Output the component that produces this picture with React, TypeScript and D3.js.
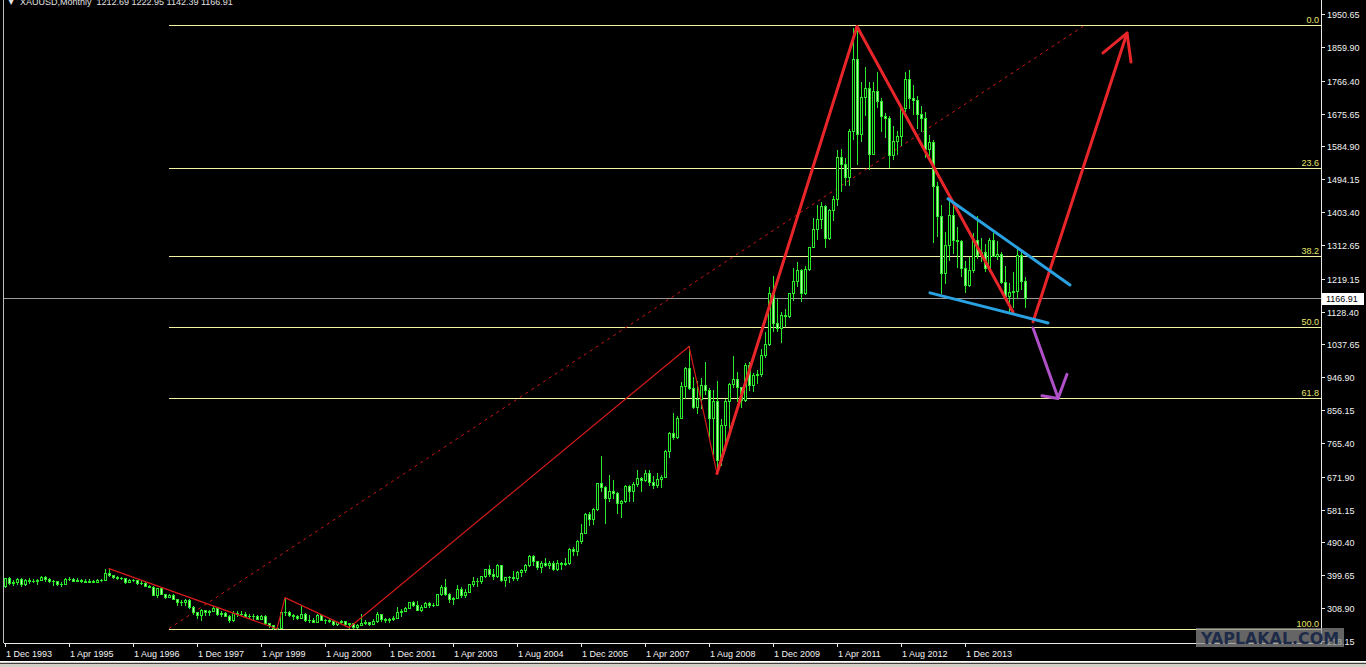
import React from 'react';
import * as d3 from 'd3';

const W = 1366;
const H = 667;

// XAUUSD monthly bars, Dec 1993 .. Mar 2015
const START = new Date(1993, 11, 1);
const END = new Date(2015, 3, 1);

const opens = [
  370,
  391, 378, 381, 390, 376, 387, 385, 384, 386, 394, 389, 383,
  383, 375, 376, 390, 390, 385, 387, 383, 382, 384, 382, 387,
  387, 405, 400, 396, 391, 391, 382, 386, 386, 379, 379, 371,
  368, 345, 364, 348, 340, 344, 334, 326, 325, 332, 311, 297,
  290, 303, 297, 301, 309, 293, 296, 288, 275, 296, 292, 294,
  288, 286, 287, 279, 286, 268, 262, 255, 254, 299, 299, 291,
  288, 283, 293, 276, 275, 272, 289, 277, 277, 273, 264, 270,
  273, 265, 267, 258, 263, 267, 270, 266, 273, 292, 280, 275,
  279, 282, 297, 302, 309, 326, 318, 304, 312, 324, 317, 319,
  347, 368, 347, 334, 338, 363, 346, 354, 375, 385, 383, 398,
  416, 402, 397, 427, 387, 394, 395, 392, 409, 415, 428, 453,
  438, 422, 435, 428, 435, 416, 435, 430, 433, 473, 466, 494,
  517, 569, 556, 583, 654, 643, 614, 633, 626, 599, 605, 646,
  632, 651, 669, 662, 681, 657, 650, 666, 672, 743, 794, 783,
  834, 923, 972, 918, 864, 887, 926, 912, 833, 880, 718, 814,
  882, 928, 942, 919, 883, 980, 926, 954, 955, 1008, 1040, 1180,
  1097, 1082, 1118, 1115, 1180, 1213, 1243, 1181, 1247, 1307, 1357, 1384,
  1421, 1333, 1409, 1439, 1556, 1536, 1500, 1628, 1826, 1620, 1722, 1746,
  1564, 1737, 1711, 1668, 1664, 1560, 1599, 1614, 1690, 1772, 1719, 1712,
  1675, 1663, 1579, 1597, 1476, 1392, 1234, 1313, 1396, 1326, 1323, 1250,
  1202, 1244, 1326, 1284, 1292, 1250, 1327, 1282, 1287, 1210, 1171, 1183,
  1184, 1284, 1212.69,
];

const highs = [
  392,
  396, 386, 392, 392, 389, 392, 389, 389, 399, 397, 391, 386,
  384, 381, 393, 396, 391, 391, 390, 389, 389, 387, 390, 389,
  418, 417, 401, 397, 395, 392, 389, 390, 387, 385, 384, 373,
  369, 365, 366, 349, 349, 347, 335, 331, 335, 335, 314, 299,
  307, 305, 303, 316, 313, 300, 298, 290, 301, 302, 301, 297,
  292, 292, 291, 291, 290, 269, 263, 261, 300, 338, 301, 292,
  290, 318, 296, 289, 283, 292, 293, 280, 279, 275, 272, 276,
  273, 269, 269, 265, 294, 275, 272, 278, 298, 294, 282, 282,
  286, 313, 306, 312, 327, 330, 328, 317, 327, 325, 324, 349,
  372, 389, 352, 340, 373, 368, 362, 376, 394, 392, 399, 417,
  428, 418, 431, 427, 396, 399, 411, 412, 417, 430, 456, 457,
  440, 438, 448, 439, 438, 443, 437, 448, 476, 478, 496, 541,
  571, 574, 587, 655, 730, 646, 676, 664, 631, 608, 650, 650,
  657, 690, 670, 692, 691, 674, 682, 677, 745, 796, 848, 841,
  933, 975, 1032, 949, 936, 946, 988, 918, 913, 936, 832, 888,
  930, 1006, 961, 919, 985, 990, 960, 966, 1024, 1072, 1195, 1226,
  1162, 1128, 1136, 1181, 1249, 1265, 1246, 1253, 1308, 1388, 1424, 1431,
  1424, 1412, 1447, 1576, 1577, 1552, 1632, 1913, 1921, 1764, 1803, 1763,
  1764, 1791, 1718, 1676, 1668, 1640, 1628, 1692, 1790, 1796, 1754, 1723,
  1697, 1679, 1617, 1603, 1487, 1424, 1347, 1434, 1424, 1361, 1325, 1268,
  1280, 1345, 1392, 1331, 1315, 1332, 1345, 1323, 1293, 1255, 1208, 1238,
  1307, 1293, 1222.95,
];

const lows = [
  367,
  376, 373, 376, 369, 374, 379, 380, 375, 386, 383, 381, 374,
  372, 371, 375, 388, 383, 384, 382, 380, 381, 381, 381, 383,
  387, 397, 393, 389, 390, 379, 380, 385, 377, 377, 369, 366,
  344, 340, 347, 337, 339, 334, 318, 319, 319, 309, 294, 282,
  277, 291, 289, 300, 291, 287, 286, 272, 274, 288, 290, 284,
  283, 280, 278, 278, 265, 256, 252, 252, 253, 289, 287, 280,
  280, 282, 273, 272, 270, 272, 275, 269, 270, 263, 263, 267,
  262, 255, 255, 255, 262, 264, 263, 265, 271, 273, 270, 271,
  276, 281, 288, 300, 309, 315, 303, 302, 311, 313, 315, 317,
  345, 345, 326, 320, 336, 340, 340, 354, 369, 369, 378, 396,
  399, 390, 394, 385, 371, 382, 387, 388, 398, 410, 425, 427,
  416, 410, 425, 421, 414, 413, 418, 427, 432, 456, 456, 490,
  517, 538, 541, 581, 632, 543, 605, 612, 573, 560, 603, 604,
  604, 647, 632, 660, 648, 641, 645, 643, 670, 726, 776, 780,
  834, 890, 914, 862, 847, 863, 902, 775, 736, 681, 705, 745,
  800, 919, 881, 866, 880, 913, 908, 931, 951, 1003, 1035, 1076,
  1075, 1045, 1088, 1114, 1160, 1200, 1157, 1176, 1243, 1306, 1329, 1359,
  1308, 1330, 1381, 1423, 1462, 1478, 1478, 1604, 1535, 1600, 1671, 1523,
  1564, 1693, 1627, 1612, 1527, 1549, 1564, 1589, 1684, 1692, 1673, 1635,
  1626, 1555, 1562, 1321, 1338, 1180, 1207, 1271, 1291, 1251, 1226, 1182,
  1200, 1238, 1277, 1268, 1240, 1240, 1281, 1273, 1206, 1161, 1131, 1142,
  1167, 1190, 1142.39,
];

const closes = [
  391,
  378, 381, 390, 376, 387, 385, 384, 386, 394, 389, 383, 383,
  375, 376, 390, 390, 385, 387, 383, 382, 384, 382, 387, 387,
  405, 400, 396, 391, 391, 382, 386, 386, 379, 379, 371, 368,
  345, 364, 348, 340, 344, 334, 326, 325, 332, 311, 297, 290,
  303, 297, 301, 309, 293, 296, 288, 275, 296, 292, 294, 288,
  286, 287, 279, 286, 268, 262, 255, 254, 299, 299, 291, 288,
  283, 293, 276, 275, 272, 289, 277, 277, 273, 264, 270, 273,
  265, 267, 258, 263, 267, 270, 266, 273, 292, 280, 275, 279,
  282, 297, 302, 309, 326, 318, 304, 312, 324, 317, 319, 347,
  368, 347, 334, 338, 363, 346, 354, 375, 385, 383, 398, 416,
  402, 397, 427, 387, 394, 395, 392, 409, 415, 428, 453, 438,
  422, 435, 428, 435, 416, 435, 430, 433, 473, 466, 494, 517,
  569, 556, 583, 654, 643, 614, 633, 626, 599, 605, 646, 632,
  651, 669, 662, 681, 657, 650, 666, 672, 743, 794, 783, 834,
  923, 972, 918, 864, 887, 926, 912, 833, 880, 718, 814, 882,
  928, 942, 919, 883, 980, 926, 954, 955, 1008, 1040, 1180, 1097,
  1082, 1118, 1115, 1180, 1213, 1243, 1181, 1247, 1307, 1357, 1384, 1421,
  1333, 1409, 1439, 1556, 1536, 1500, 1628, 1826, 1620, 1722, 1746, 1564,
  1737, 1711, 1668, 1664, 1560, 1599, 1614, 1690, 1772, 1719, 1712, 1675,
  1663, 1579, 1597, 1476, 1392, 1234, 1313, 1396, 1326, 1323, 1250, 1202,
  1244, 1326, 1284, 1292, 1250, 1327, 1282, 1287, 1210, 1171, 1183, 1184,
  1284, 1213, 1166.91,
];

const priceTicks = [
  1950.65, 1859.9, 1766.4, 1675.65, 1584.9, 1494.15, 1403.4, 1312.65, 1219.15,
  1128.4, 1037.65, 946.9, 856.15, 765.4, 671.9, 581.15, 490.4, 399.65, 308.9, 218.15,
];

const timeTicks = [
  '1 Dec 1993', '1 Apr 1995', '1 Aug 1996', '1 Dec 1997', '1 Apr 1999', '1 Aug 2000',
  '1 Dec 2001', '1 Apr 2003', '1 Aug 2004', '1 Dec 2005', '1 Apr 2007', '1 Aug 2008',
  '1 Dec 2009', '1 Apr 2011', '1 Aug 2012', '1 Dec 2013',
];

const header = 'XAUUSD,Monthly  1212.69 1222.95 1142.39 1166.91';
const lastPrice = 1166.91;

// fibo retracement: anchors (bar index, price)
const fibLevels = [0, 23.6, 38.2, 50, 61.8, 100];
const fibA: [number, number] = [41, 252.5];
const fibB: [number, number] = [270, 1920];

// drawn objects, (bar index, price)
const thinZigzag: [number, number][] = [[26, 418], [68, 252], [70, 338], [86, 255], [171, 1032], [178, 681]];
const thickZigzag: [number, number][] = [[178, 681], [213, 1916], [252, 1127]];
const upArrow: [number, number][] = [[257, 1100], [280.5, 1898]];
const upArrowHead: [number, number][] = [[274.5, 1843], [280.5, 1898], [281.5, 1818]];
const downArrow: [number, number][] = [[257, 1083], [263.25, 890]];
const downArrowHead: [number, number][] = [[259.25, 896], [263.25, 888], [265.5, 955]];
const wedgeTop: [number, number][] = [[235.75, 1440], [266.25, 1202]];
const wedgeBottom: [number, number][] = [[231.25, 1180], [260.75, 1097]];

const CANDLE = '#2bea2b';
const BEAR_FILL = '#b6f7a8';
const FIB = '#f2f2a0';
const FIB_TEXT = '#e6e66e';
const AXIS = '#e8e8e8';
const FONT = '"Liberation Sans", Arial, sans-serif';

export default function App() {
  const months = d3.timeMonth.range(START, END);
  const fmt = d3.timeFormat('%-d %b %Y');

  const x = d3.scaleLinear().domain([0, 1]).range([5, 9]);
  const y = d3.scaleLinear().domain([218.15, 1950.65]).range([641, 14]);

  const plotL = 4;
  const plotR = 1321;
  const plotB = 643;

  const line = d3
    .line<[number, number]>()
    .x((d) => x(d[0]))
    .y((d) => y(d[1]));

  const fibY = (lv: number) => Math.round(y(fibB[1] - (fibB[1] - fibA[1]) * lv / 100)) + 0.5;
  const lastY = Math.round(y(lastPrice)) + 0.5;

  return (
    <svg
      width={W}
      height={H}
      style={{ position: 'fixed', left: 0, top: 0, display: 'block', background: '#000' }}
    >
      <defs>
        <clipPath id="plot">
          <rect x={plotL} y={0} width={plotR - plotL} height={plotB} />
        </clipPath>
      </defs>
      <rect x={0} y={0} width={W} height={H} fill="#000" />

      {/* fibo levels */}
      <g clipPath="url(#plot)">
        {fibLevels.map((lv) => (
          <g key={lv}>
            <line x1={x(fibA[0])} x2={plotR} y1={fibY(lv)} y2={fibY(lv)} stroke={FIB} strokeWidth={1} />
            <text
              x={plotR - 2}
              y={fibY(lv) - 2.5}
              textAnchor="end"
              fill={FIB_TEXT}
              fontFamily={FONT}
              fontSize={9}
            >
              {lv.toFixed(1)}
            </text>
          </g>
        ))}
        <path d={line([fibA, fibB]) || ''} stroke="#d01818" strokeWidth={1} strokeDasharray="3,4" fill="none" />

        {/* last price line */}
        <line x1={plotL} x2={plotR} y1={lastY} y2={lastY} stroke="#9a9a9a" strokeWidth={1} />
      </g>

      {/* candles */}
      <g shapeRendering="crispEdges" clipPath="url(#plot)">
        {closes.map((c, i) => {
          const o = opens[i];
          const cx = Math.round(x(i));
          const yh = Math.round(y(highs[i]));
          const yl = Math.round(y(lows[i]));
          const yt = Math.round(y(Math.max(o, c)));
          const yb = Math.round(y(Math.min(o, c)));
          const bh = Math.max(0, yb - yt);
          return (
            <g key={i}>
              <rect x={cx} y={yh} width={1} height={Math.max(1, yl - yh + 1)} fill={CANDLE} />
              <rect x={cx - 1} y={yt} width={3} height={bh + 1} fill={CANDLE} />
              {bh > 1 && (
                <rect x={cx} y={yt + 1} width={1} height={bh - 1} fill={c < o ? BEAR_FILL : '#000'} />
              )}
            </g>
          );
        })}
      </g>

      {/* drawings */}
      <g clipPath="url(#plot)" fill="none" strokeLinecap="round" strokeLinejoin="round">
        <path d={line(thinZigzag) || ''} stroke="#d41a1a" strokeWidth={1.2} />
        <path d={line(thickZigzag) || ''} stroke="#e8262a" strokeWidth={3} />
        <path d={line(upArrow) || ''} stroke="#e8262a" strokeWidth={3} />
        <path d={line(upArrowHead) || ''} stroke="#e8262a" strokeWidth={3} />
        <path d={line(downArrow) || ''} stroke="#b050c8" strokeWidth={3} />
        <path d={line(downArrowHead) || ''} stroke="#b050c8" strokeWidth={3} />
        <path d={line(wedgeTop) || ''} stroke="#2aa2e2" strokeWidth={3} />
        <path d={line(wedgeBottom) || ''} stroke="#2aa2e2" strokeWidth={3} />
      </g>

      {/* frame */}
      <g shapeRendering="crispEdges">
        <line x1={3.5} x2={3.5} y1={0} y2={plotB} stroke="#bdbdbd" />
        <line x1={plotR + 0.5} x2={plotR + 0.5} y1={0} y2={plotB + 1} stroke={AXIS} />
        <line x1={plotL} x2={plotR + 1} y1={plotB + 0.5} y2={plotB + 0.5} stroke={AXIS} />
      </g>

      {/* price axis */}
      {priceTicks.map((p) => {
        const py = Math.round(y(p)) + 0.5;
        return (
          <g key={p}>
            <line x1={plotR + 1} x2={plotR + 4} y1={py} y2={py} stroke={AXIS} shapeRendering="crispEdges" />
            <text x={plotR + 6} y={py + 3.5} fill="#f2f2f2" fontFamily={FONT} fontSize={9}>
              {p.toFixed(2)}
            </text>
          </g>
        );
      })}
      <rect x={plotR + 1} y={lastY - 6} width={42} height={12} fill="#ffffff" shapeRendering="crispEdges" />
      <text x={plotR + 5} y={lastY + 3.5} fill="#000" fontFamily={FONT} fontSize={9}>
        {lastPrice.toFixed(2)}
      </text>

      {/* time axis */}
      {timeTicks.map((t) => {
        const i = months.findIndex((m) => fmt(m) === t);
        const tx = Math.round(x(i)) + 0.5;
        return (
          <g key={t}>
            <line x1={tx} x2={tx} y1={plotB} y2={plotB + 4} stroke={AXIS} shapeRendering="crispEdges" />
            <text x={tx + 0.5} y={657} fill="#f2f2f2" fontFamily={FONT} fontSize={9}>
              {t}
            </text>
          </g>
        );
      })}

      {/* header */}
      <text x={8} y={4} fill="#e0e0e0" fontFamily='"DejaVu Sans", sans-serif' fontSize={8}>
        ▼
      </text>
      <text x={20} y={5} fill="#e0e0e0" fontFamily={FONT} fontSize={9} style={{ whiteSpace: 'pre' }}>
        {header}
      </text>

      {/* watermark */}
      <rect x={1196} y={628} width={148} height={19} fill="#8c8c8c" opacity={0.72} />
      <text
        x={1270}
        y={644}
        textAnchor="middle"
        fill="#1d2b48"
        fontFamily='"DejaVu Sans", sans-serif'
        fontWeight="bold"
        fontSize={16}
        textLength={138}
        lengthAdjust="spacingAndGlyphs"
      >
        YAPLAKAL.COM
      </text>

      {/* window bottom */}
      <rect x={0} y={661} width={W} height={6} fill="#d4d0c8" />
      <line x1={0} x2={W} y1={661.5} y2={661.5} stroke="#ffffff" />
      <line x1={0} x2={W} y1={663.5} y2={663.5} stroke="#404040" />
    </svg>
  );
}
